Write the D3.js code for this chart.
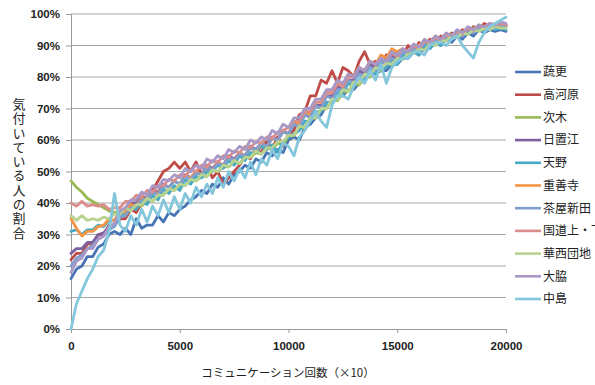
<!DOCTYPE html>
<html>
<head>
<meta charset="utf-8">
<script src="https://cdn.jsdelivr.net/npm/d3@7"></script>
<style>
    body { margin: 0; background: #fff; }
    svg { display: block; }
</style>
</head>
<body>
<svg id="chart" width="595" height="385"></svg>
<script>
// Legend order = draw order (last one ends up on top)
const seriesNames = ["蔬更", "高河原", "次木", "日置江", "天野", "重善寺", "茶屋新田", "国道上・下", "華西団地", "大脇", "中島"];
const seriesColors = ["#4674b4", "#be4b48", "#98b954", "#7d60a0", "#46aac5", "#f69544", "#7f9fd0", "#da8d8b", "#b8d38f", "#a898c6", "#84c6db"];

// x: communication count (x10), one sample every 250
const steps = d3.range(0, 20001, 250);
const xTicks = [0, 5000, 10000, 15000, 20000];
const yTicks = [0, 10, 20, 30, 40, 50, 60, 70, 80, 90, 100];

// share of people who noticed (%)
const soko = [
    16, 19, 20, 23, 23, 26, 27, 30, 31, 30,
    32, 30, 35, 32, 33, 33, 36, 34, 37, 36,
    38, 39, 41, 42, 44, 43, 46, 45, 48, 46,
    49, 50, 52, 51, 54, 53, 56, 55, 57, 56,
    60, 61, 60, 64, 65, 67, 68, 71, 72, 74,
    74, 76, 76, 78, 79, 81, 81, 82, 82, 84,
    84, 86, 86, 88, 87, 89, 89, 91, 90, 92,
    91, 93, 92, 94, 93, 95, 94, 95, 94.5, 95,
    94.5
];
const takagawara = [
    22, 24, 24, 27, 27, 30, 30, 33, 33, 35,
    35, 38, 37, 40, 40, 44, 47, 50, 51, 53,
    51, 53, 50, 53, 49, 52, 48, 50, 46, 48,
    50, 52, 55, 54, 57, 56, 60, 57, 61, 58,
    62, 63, 68, 69, 74, 74, 79, 78, 82, 78,
    83, 82, 80, 85, 88, 84, 85, 84, 87, 86,
    88, 87, 90, 88, 91, 89, 92, 91, 93, 92,
    94, 93, 95, 94, 96, 95, 97, 96, 97, 96,
    96.5
];
const namiki = [
    47, 45, 43.5, 41.5, 40.5, 39.5, 38.5, 37.5, 37, 36.5,
    38, 37.5, 39.5, 39, 41, 40.5, 42.5, 42.5, 44.5, 44,
    45.5, 45.5, 47.5, 47, 48.5, 48.5, 50.5, 50, 51.5, 51.5,
    53, 52.5, 54.5, 54.5, 56, 55.5, 57.5, 57, 59, 58.5,
    61, 61.5, 63.5, 64, 66.5, 67, 69.5, 70, 72.5, 72.5,
    75, 75.5, 77.5, 77.5, 80, 80, 82, 82, 84, 84,
    86, 86, 87.5, 88, 89.5, 89.5, 91, 90.5, 92, 92,
    93.5, 93, 94.5, 94, 95.5, 95, 96, 95.5, 96.5, 96,
    96
];
const hekie = [
    24, 25.5, 25.5, 27.5, 27.5, 30, 30.5, 32.5, 33.5, 36.5,
    37.5, 40, 40, 42, 41.5, 44, 43.5, 46, 45, 47,
    46, 49, 48, 50, 49, 52, 51, 53, 52, 55,
    54, 56, 55, 58, 57, 59, 58, 61, 60, 63,
    62, 65, 65, 68, 68, 71, 71, 74, 74, 77,
    76, 79, 79, 82, 81, 84, 83, 85, 84, 87,
    86, 88, 87, 90, 89, 91, 90, 92, 91, 93,
    92, 94, 93, 95, 94, 96, 95, 96.5, 96, 97,
    96.5
];
const amano = [
    31, 31.5, 30, 31.5, 31.5, 33, 32.5, 34.5, 34.5, 37,
    36, 38.5, 38, 40.5, 39.5, 42.5, 41, 44.5, 43, 45.5,
    44, 47.5, 46, 48.5, 48, 50, 50, 52, 51, 53.5,
    52, 55, 53.5, 56, 56, 58, 57, 58.5, 56, 59.5,
    61, 62, 63, 66, 66, 69, 69, 72, 72, 75,
    75, 78, 77, 80, 79, 82, 81, 83, 83, 85,
    84, 87, 86, 88, 87, 90, 89, 91, 90, 92,
    92, 93, 93, 94, 94, 95, 94.5, 95.5, 95, 95.5,
    95
];
const juzenji = [
    35, 32, 29.5, 31, 31, 32.5, 33, 35, 34.5, 37.5,
    37, 39.5, 39, 41.5, 41, 43.5, 43, 45.5, 45, 47,
    46, 48.5, 48, 50, 49, 51.5, 50.5, 53, 52, 54.5,
    53.5, 56, 55, 57.5, 56.5, 59, 58, 60.5, 60, 62.5,
    62, 66, 65, 69, 68, 72, 72, 75, 75, 78,
    77, 81, 80, 83, 82, 85, 84, 87, 86, 89,
    88, 89, 88, 90, 90, 91.5, 91, 93, 92, 93.5,
    93, 94.5, 94, 95.5, 95, 96.5, 96, 97, 96.5, 97,
    96.5
];
const chayashinden = [
    20, 22.5, 23.5, 25.5, 26.5, 28.5, 29.5, 31.5, 32.5, 35.5,
    36, 38.5, 39, 41, 41, 43.5, 42.5, 45.5, 45, 47,
    46, 48.5, 47.5, 49.5, 49, 51.5, 50.5, 52.5, 52, 54.5,
    53.5, 55.5, 55, 57.5, 57, 59, 58, 60.5, 60, 62.5,
    62, 65, 64, 68, 67, 71, 70, 74, 73, 76,
    76, 79, 78, 81, 80, 83, 82, 85, 84, 86,
    85, 88, 87, 89, 88, 91, 90, 92, 91, 93,
    92, 94, 93, 95, 94, 95.5, 95, 96.5, 95.5, 96.5,
    96
];
const kokudo = [
    40, 39, 40.5, 39, 39.5, 39, 39.5, 38, 38.5, 38.5,
    40.5, 40.5, 42.5, 42, 44, 43.5, 45.5, 45.5, 47.5, 47,
    49, 48.5, 50.5, 50, 52, 51.5, 53.5, 53, 55, 54.5,
    56.5, 56, 58, 57.5, 59.5, 59, 61, 60.5, 62.5, 63,
    64, 66, 66, 69, 69, 72, 72, 75, 75, 78,
    77, 80, 80, 83, 82, 85, 84, 86, 85, 87.5,
    86.5, 89, 88, 90, 89, 91.5, 90.5, 92.5, 91.5, 93.5,
    92.5, 94.5, 93.5, 95.5, 94.5, 96.5, 95.5, 97, 96, 97,
    96.5
];
const kasai = [
    36, 34.5, 36, 34.5, 35, 34.5, 35.5, 35, 36.5, 36.5,
    38.5, 37.5, 39.5, 39.5, 41.5, 40.5, 42.5, 42.5, 44.5, 44,
    46, 45.5, 47.5, 47, 49, 48.5, 50.5, 50, 52, 51.5,
    53.5, 52.5, 54.5, 54.5, 56.5, 55.5, 57.5, 57.5, 59.5, 59.5,
    61.5, 61.5, 64.5, 64, 67, 67, 70, 70, 73, 73,
    76, 75.5, 78.5, 78, 81, 80.5, 83, 82.5, 84.5, 84,
    86, 85.5, 87.5, 87.5, 89, 88.5, 90.5, 90, 91.5, 91.5,
    93, 92.5, 94, 93.5, 95, 94.5, 95.5, 95, 96, 95.5,
    95.5
];
const owaki = [
    18, 21.5, 22.5, 25.5, 25.5, 28.5, 29.5, 32.5, 33.5, 37.5,
    38.5, 41, 41, 43.5, 42.5, 45.5, 45, 47.5, 47, 49,
    48, 51, 50, 52, 51, 54, 53, 55, 54, 57,
    56, 58, 57, 60, 59, 61, 60, 63, 62, 65,
    64, 67, 67, 70, 70, 73, 73, 76, 76, 79,
    78, 81, 80, 83, 82, 85, 84, 86, 85, 88,
    87, 89, 88, 90.5, 89.5, 92, 91, 93, 92, 94,
    93, 95, 94, 96, 95, 96.5, 96, 97, 96.5, 97.5,
    97
];
const nakajima = [
    0, 8, 12, 16, 19, 23, 25, 31, 43, 33,
    31, 36, 33, 38, 34, 39, 36, 41, 37, 42,
    38, 43, 40, 45, 42, 46, 43, 48, 45, 50,
    47, 51, 48, 53, 49, 54, 52, 57, 54, 59,
    58, 55, 61, 63, 66, 69, 66, 64, 71, 74,
    74, 73, 77, 80, 78, 82, 79, 84, 78, 83,
    85, 86, 86, 88, 88, 87, 90, 91, 91, 90,
    92, 93, 90, 88, 86, 91, 94, 96, 97, 98,
    99
];
const seriesValues = [soko, takagawara, namiki, hekie, amano, juzenji, chayashinden, kokudo, kasai, owaki, nakajima];

// --- Layout ---
const plot = { left: 71, right: 506, top: 14, bottom: 329 };
const svg = d3.select("#chart");
const numFont = "'Liberation Sans', Arial, sans-serif";
const jpFont = "'Noto Sans CJK JP', sans-serif";

const x = d3.scaleLinear().domain([0, 20000]).range([plot.left, plot.right]);
const y = d3.scaleLinear().domain([0, 100]).range([plot.bottom, plot.top]);

// --- Gridlines ---
svg.append("g")
    .selectAll("line")
    .data(yTicks.filter(d => d > 0))
    .join("line")
    .attr("x1", plot.left)
    .attr("x2", plot.right)
    .attr("y1", d => y(d))
    .attr("y2", d => y(d))
    .attr("stroke", "#a6a6a6")
    .attr("stroke-width", 1);

// --- Axes ---
const yAxis = svg.append("g")
    .attr("transform", `translate(${plot.left},0)`)
    .call(d3.axisLeft(y).tickValues(yTicks).tickSize(5).tickPadding(6).tickFormat(d => d + "%"));

const xAxis = svg.append("g")
    .attr("transform", `translate(0,${plot.bottom})`)
    .call(d3.axisBottom(x).tickValues(xTicks).tickSizeInner(4).tickSizeOuter(0).tickPadding(9).tickFormat(d => d));

[yAxis, xAxis].forEach(ax => {
    ax.select(".domain").attr("stroke", "#999");
    ax.selectAll(".tick line").attr("stroke", "#999");
    ax.selectAll("text")
        .attr("fill", "#222")
        .style("font-family", numFont)
        .style("font-size", "11.5px")
        .style("font-weight", "bold");
});

// --- Lines ---
const line = d3.line()
    .x((d, i) => x(steps[i]))
    .y(d => y(d));

svg.append("g")
    .selectAll("path")
    .data(seriesValues)
    .join("path")
    .attr("d", d => line(d))
    .attr("fill", "none")
    .attr("stroke", (d, i) => seriesColors[i])
    .attr("stroke-width", 2.8)
    .attr("stroke-linejoin", "round")
    .attr("stroke-linecap", "round");

// --- Legend ---
const legend = svg.append("g")
    .selectAll("g")
    .data(seriesNames)
    .join("g")
    .attr("transform", (d, i) => `translate(515,${72 + i * 22.7})`);

legend.append("line")
    .attr("x1", 0)
    .attr("x2", 26)
    .attr("stroke", (d, i) => seriesColors[i])
    .attr("stroke-width", 2.6);

legend.append("text")
    .attr("x", 28)
    .attr("dy", "0.36em")
    .attr("fill", "#222")
    .style("font-family", jpFont)
    .style("font-size", "12px")
    .text(d => d);

// --- Axis titles ---
svg.append("text")
    .attr("x", 288)
    .attr("y", 377)
    .attr("text-anchor", "middle")
    .attr("fill", "#222")
    .style("font-family", jpFont)
    .style("font-size", "11.5px")
    .text("コミュニケーション回数（×10）");

// vertical title, upright characters top to bottom
svg.append("text")
    .attr("x", 19)
    .attr("y", 169)
    .attr("text-anchor", "middle")
    .attr("fill", "#222")
    .style("font-family", jpFont)
    .style("font-size", "13px")
    .style("writing-mode", "vertical-rl")
    .style("text-orientation", "upright")
    .style("letter-spacing", "1.3px")
    .text("気付いている人の割合");
</script>
</body>
</html>
